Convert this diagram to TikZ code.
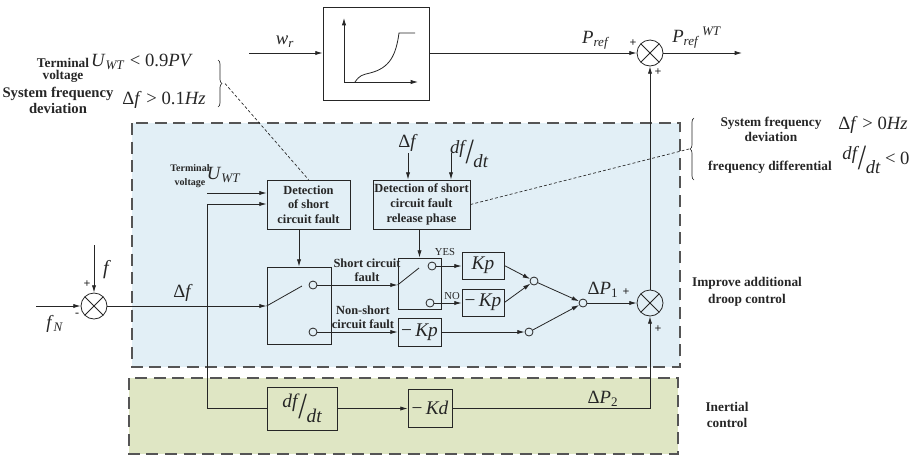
\documentclass[tikz,border=0pt]{standalone}
\usepackage{fontspec}
\setmainfont{Liberation Serif}
\usepackage{graphicx}
\usetikzlibrary{arrows.meta,decorations.pathreplacing,calc}
\definecolor{lc}{HTML}{262626}
\definecolor{bluebg}{HTML}{E2EFF6}
\definecolor{greenbg}{HTML}{DFE6C4}
\definecolor{regline}{HTML}{555555}
\newcommand{\myfrac}{\raisebox{0.55ex}{\itshape df}\kern0.05em\raisebox{-0.6ex}{\scalebox{1.6}[1.9]{/}}\kern-0.02em\raisebox{-1.15ex}{\itshape dt}}
\begin{document}
\begin{tikzpicture}[x=0.75pt,y=-0.75pt,line width=0.6pt,color=lc,
  >={Latex[length=5.5pt,width=3.2pt]},
  box/.style={draw,rectangle,inner sep=0pt,align=center},
  sumcirc/.style={draw,circle,minimum size=19.5pt,inner sep=0pt,
    path picture={\draw[line width=0.6pt] (path picture bounding box.north west)--(path picture bounding box.south east)
      (path picture bounding box.south west)--(path picture bounding box.north east);}},
  contact/.style={draw,circle,minimum size=6pt,inner sep=0pt},
  lbl/.style={inner sep=0pt,align=center},
  mathl/.style={lbl,font=\fontsize{14}{16}\selectfont},
  condl/.style={lbl,font=\fontsize{14}{16}\selectfont},
  kfont/.style={font=\fontsize{14.5}{16}\selectfont},
  boxtxt/.style={font=\bfseries\fontsize{9.3}{11}\selectfont},
  side/.style={lbl,font=\bfseries\fontsize{10}{11.5}\selectfont},
  smallside/.style={lbl,font=\bfseries\fontsize{7.5}{10}\selectfont},
  region/.style={draw=regline,line width=0.8pt,dash pattern=on 9pt off 5pt},
  guide/.style={line width=0.5pt,dash pattern=on 2.2pt off 1.6pt},
  sumsign/.style={lbl,font=\bfseries\fontsize{9}{9}\selectfont},
  bracestyle/.style={decorate,decoration={brace,amplitude=3pt},line width=0.5pt}]
\useasboundingbox (0,0) rectangle (921,455);
% regions
\path[fill=bluebg,region] (132,123) rectangle (680,367);
\path[fill=greenbg,region] (129,378) rectangle (678,454);

% blocks
\node[box,minimum width=79.5pt,minimum height=69.75pt] (curve) at (376,53.5) {};
\node[box,boxtxt,minimum width=62.25pt,minimum height=36.75pt] (det1) at (308.5,204.5) {Detection\\of short\\circuit fault};
\node[box,boxtxt,minimum width=72.75pt,minimum height=36.75pt] (det2) at (421.5,204.5) {Detection of short\\circuit fault\\release phase};
\node[box,minimum width=48pt,minimum height=57.75pt] (sw1) at (299,305.5) {};
\node[box,minimum width=32.25pt,minimum height=38.25pt] (sw2) at (419.5,283.5) {};
\node[box,kfont,minimum width=31.5pt,minimum height=20.25pt] (kp1) at (483,265.5) {\textit{Kp}};
\node[box,kfont,minimum width=31.5pt,minimum height=20.25pt] (kp2) at (483,302.5) {−\,\textit{Kp}};
\node[box,kfont,minimum width=32.25pt,minimum height=21pt] (kp3) at (419.5,332) {−\,\textit{Kp}};
\node[box,kfont,minimum width=52.5pt,minimum height=32.25pt] (dfdt) at (302,408.5) {\myfrac};
\node[box,kfont,minimum width=33pt,minimum height=28.5pt] (kd) at (430,408) {−\,\textit{Kd}};

% summing junctions
\node[sumcirc] (s1) at (94,306) {};
\node[sumcirc] (s2) at (650,53) {};
\node[sumcirc] (s3) at (650,303) {};

% contacts
\node[contact] (c1) at (313,285) {};
\node[contact] (c2) at (313,332) {};
\node[contact] (c3) at (432,266) {};
\node[contact] (c4) at (430,303) {};
\node[contact] (j1) at (534,281) {};
\node[contact] (j2) at (583,303) {};
\node[contact] (j3) at (529,332) {};

% free ends
\coordinate (wrin) at (249,53);
\coordinate (pout) at (742,53);
\coordinate (fin) at (94,245);
\coordinate (fnin) at (36,306);
\coordinate (tv) at (207,193);
\coordinate (bt) at (207,204);
\coordinate (bb) at (207,408);
\coordinate (dfin) at (408,153);
\coordinate (ddin) at (451,153);
\coordinate (kdc) at (650,408);
\coordinate (blade1) at (302,286);
\coordinate (blade2) at (419,268);
\coordinate (lbtip) at (225,83.5);
\coordinate (rbtip) at (689,149);

% curve inside block
\draw[->] (344,82) -- (344,18);
\draw[->] (344,82) -- (418,82);
\draw (355,82) .. controls (360,75) and (362,75) .. (370,73) .. controls (390,68) and (396,55) .. (399,33) -- (415,33);

% connectors
\draw[->] (wrin) -- (wrin -| curve.west);
\draw[->] (curve.east |- s2) -- (s2.west);
\draw[->] (s2.east) -- (pout);
\draw[->] (s3.north) -- (s2.south);
\draw[->] (fin) -- (s1.north);
\draw[->] (fnin) -- (s1.west);
\draw[->] (s1.east) -- (s1 -| sw1.west);
\draw (s1 -| sw1.west) -- (blade1);
\draw (bt) -- (bb);
\draw[->] (bt) -- (bt -| det1.west);
\draw[->] (tv) -- (tv -| det1.west);
\draw (bb) -- (bb -| dfdt.west);
\draw[->] (sw1.north |- det1.south) -- (sw1.north);
\draw[->] (dfin) -- (dfin |- det2.north);
\draw[->] (ddin) -- (ddin |- det2.north);
\draw[->] (sw2.north |- det2.south) -- (sw2.north);
\draw[->] (c1.east) -- (c1.east -| sw2.west);
\draw (c1.east -| sw2.west) -- (blade2);
\draw[->] (c2.east) -- (c2.east -| kp3.west);
\draw[->] (c3.east) -- (c3.east -| kp1.west);
\draw[->] (c4.east) -- (c4.east -| kp2.west);
\draw[->] (kp1.east) -- (j1);
\draw[->] (kp2.east) -- (j1);
\draw[->] (j1) -- (j2);
\draw[->] (kp3.east) -- (j3);
\draw[->] (j3) -- (j2);
\draw[->] (j2) -- (s3.west);
\draw[->] (dfdt.east) -- (dfdt.east -| kd.west);
\draw[->] (kd.east) -- (kdc) -- (s3.south);

% braces and guide lines
\draw[bracestyle] (218,60) -- (218,107);
\draw[bracestyle] (694,180) -- (694,118);
\draw[guide] (lbtip) -- (det1.north);
\draw[guide] (det2.east) -- (rbtip);

% labels
\node[mathl] at (285,42) {\textit{w}\textsubscript{\textit{r}}};
\node[mathl] at (596,40) {\textit{P}\textsubscript{\textit{ref}}};
\node[mathl] at (697,38) {\textit{P}\textsubscript{\textit{ref}}\textsuperscript{\,\textit{WT}}};
\node[sumsign] at (633,43) {+};
\node[sumsign] at (658,72) {+};
\node[sumsign] at (626,292) {+};
\node[sumsign] at (658,329) {+};
\node[sumsign] at (87,284) {+};
\node[sumsign] at (77,315) {-};
\node[mathl] at (183,293) {Δ\textit{f}};
\node[lbl,font=\fontsize{15}{16}\selectfont] at (107,270) {\textit{f}};
\node[mathl] at (55,324) {\textit{f}\textsubscript{\textit{N}}};
\node[smallside] at (190,176) {Terminal\\voltage};
\node[mathl] at (224,175) {\textit{U}\textsubscript{\textit{WT}}};
\node[mathl] at (408,143) {Δ\textit{f}};
\node[mathl] at (469,154) {\myfrac};
\node[lbl,font=\bfseries\fontsize{9.3}{10.5}\selectfont] at (367,270) {Short circuit\\fault};
\node[lbl,font=\bfseries\fontsize{9.3}{10.5}\selectfont] at (363,317) {Non-short\\circuit fault};
\node[lbl,font=\fontsize{8}{9}\selectfont] at (445,252) {YES};
\node[lbl,font=\fontsize{8}{9}\selectfont] at (452,296) {NO};
\node[mathl] at (603,290) {Δ\textit{P}\textsubscript{1}};
\node[mathl] at (603,399) {Δ\textit{P}\textsubscript{2}};

% side annotations
\node[side,font=\bfseries\fontsize{10}{8.5}\selectfont] at (63,70.5) {Terminal\\voltage};
\node[condl] at (142,62) {\textit{U}\textsubscript{\textit{WT}} < 0.9\textit{PV}};
\node[side,font=\bfseries\fontsize{11}{11.5}\selectfont] at (58,100.5) {System frequency\\deviation};
\node[condl] at (164,100) {Δ\textit{f} > 0.1\textit{Hz}};
\node[side] at (771,129.5) {System frequency\\deviation};
\node[condl] at (873,125) {Δ\textit{f} > 0\textit{Hz}};
\node[side] at (770,167) {frequency differential};
\node[condl] at (876,160) {\myfrac\ < 0};
\node[side,font=\bfseries\fontsize{10}{12.5}\selectfont] at (747,291.5) {Improve additional\\droop control};
\node[side,font=\bfseries\fontsize{10}{12}\selectfont] at (727,415) {Inertial\\control};
\end{tikzpicture}
\end{document}
